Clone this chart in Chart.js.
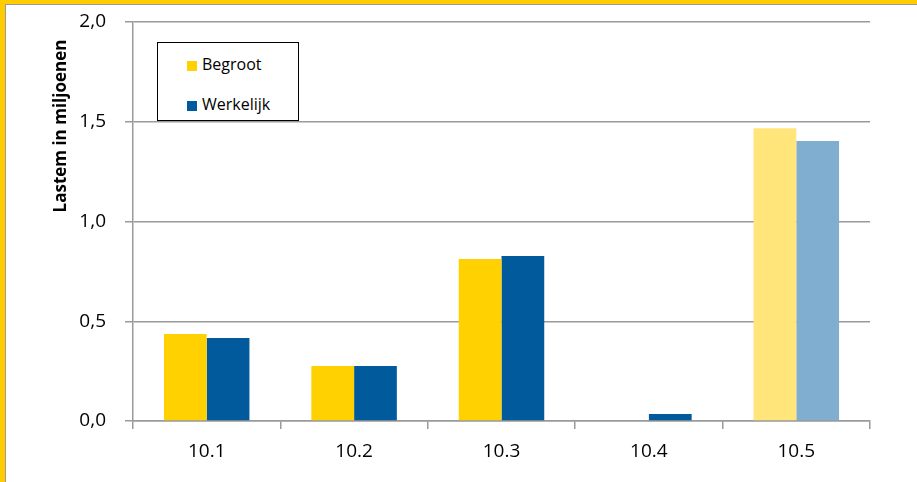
<!DOCTYPE html>
<html lang="nl">
<head>
  <meta charset="UTF-8" />
  <title>Lasten per programma</title>
  <script src="https://cdn.jsdelivr.net/npm/chart.js"></script>
  <style>
    html, body { margin: 0; padding: 0; background: #fff; }
    .frame {
      width: 912px;
      height: 478px;
      border-top: 4px solid #FFCC00;
      border-left: 5px solid #FFCC00;
    }
    .inner {
      position: relative;
      width: 911px;
      height: 477px;
      border-top: 1px solid #9a9a9a;
      border-left: 1px solid #9a9a9a;
    }
    canvas { display: block; }
    .legend {
      position: absolute;
      left: 151px;
      top: 37px;
      width: 140px;
      height: 77px;
      border: 1.5px solid #000;
      background: #fff;
      font-family: "Open Sans", sans-serif;
      font-size: 16px;
      color: #000;
    }
    .legend div {
      position: absolute;
      left: 29px;
      height: 20px;
      line-height: 20px;
      white-space: nowrap;
    }
    .legend span {
      display: inline-block;
      width: 10px;
      height: 10px;
      margin-right: 5px;
      vertical-align: -1px;
    }
  </style>
</head>
<body>

<div class="frame">
  <div class="inner">
    <canvas id="chart" width="911" height="477"></canvas>
    <div class="legend" id="legend"></div>
  </div>
</div>

<script>
  const categories = ["10.1", "10.2", "10.3", "10.4", "10.5"];
  const begroot = [0.436, 0.276, 0.812, 0.004, 1.468];
  const werkelijk = [0.416, 0.276, 0.827, 0.035, 1.403];
  const yTicks = [0, 0.5, 1.0, 1.5, 2.0];

  // de laatste categorie wordt lichter weergegeven
  const fadedCategory = "10.5";

  const yellow = '#FFD100', yellowLight = '#FFE57A';
  const blue = '#005A9C', blueLight = '#7FAED0';

  const colorsFor = (main, light) => categories.map(c => c === fadedCategory ? light : main);

  const gridColor = '#9a9a9a';

  const yTitle = {
    id: 'yTitle',
    afterDraw(chart) {
      const ctx = chart.ctx;
      ctx.save();
      ctx.translate(55, 121);
      ctx.rotate(-Math.PI / 2);
      ctx.font = 'bold 17px "Open Sans", sans-serif';
      ctx.fillStyle = '#000';
      ctx.textAlign = 'center';
      ctx.textBaseline = 'middle';
      ctx.fillText('Lastem in miljoenen', 0, 0);
      ctx.restore();
    }
  };

  const chart = new Chart(document.getElementById('chart'), {
    type: 'bar',
    data: {
      labels: categories,
      datasets: [
        { label: 'Begroot', data: begroot, backgroundColor: colorsFor(yellow, yellowLight), legendColor: yellow },
        { label: 'Werkelijk', data: werkelijk, backgroundColor: colorsFor(blue, blueLight), legendColor: blue }
      ]
    },
    options: {
      responsive: false,
      animation: false,
      layout: { padding: { top: 17, right: 47, left: 0, bottom: 0 } },
      datasets: { bar: { categoryPercentage: 0.58, barPercentage: 1.0, borderWidth: 0 } },
      plugins: { legend: { display: false }, tooltip: { enabled: false } },
      scales: {
        x: {
          grid: { display: true, drawOnChartArea: false, drawTicks: true, tickLength: 8, color: gridColor, lineWidth: 1.5 },
          border: { display: true, color: gridColor, width: 1.5 },
          ticks: { color: '#000', font: { family: 'Open Sans', size: 19 }, padding: 11 },
          afterFit(scale) { scale.height = 61; }
        },
        y: {
          min: 0,
          max: 2,
          afterBuildTicks(scale) { scale.ticks = yTicks.map(v => ({ value: v })); },
          grid: { color: gridColor, lineWidth: 1.5, tickLength: 8 },
          border: { display: true, color: gridColor, width: 1.5 },
          ticks: {
            color: '#000',
            font: { family: 'Open Sans', size: 19 },
            padding: 19,
            callback: v => v.toFixed(1).replace('.', ',')
          },
          afterFit(scale) {
            scale.width = 127;
            scale.paddingTop = 0;
            scale.paddingBottom = 0;
          }
        }
      }
    },
    plugins: [yTitle]
  });

  const legend = document.getElementById('legend');
  chart.data.datasets.forEach((ds, i) => {
    const item = document.createElement('div');
    item.style.top = (i === 0 ? 11 : 51) + 'px';
    item.innerHTML = '<span style="background:' + ds.legendColor + '"></span>' + ds.label;
    legend.appendChild(item);
  });
</script>

</body>
</html>
